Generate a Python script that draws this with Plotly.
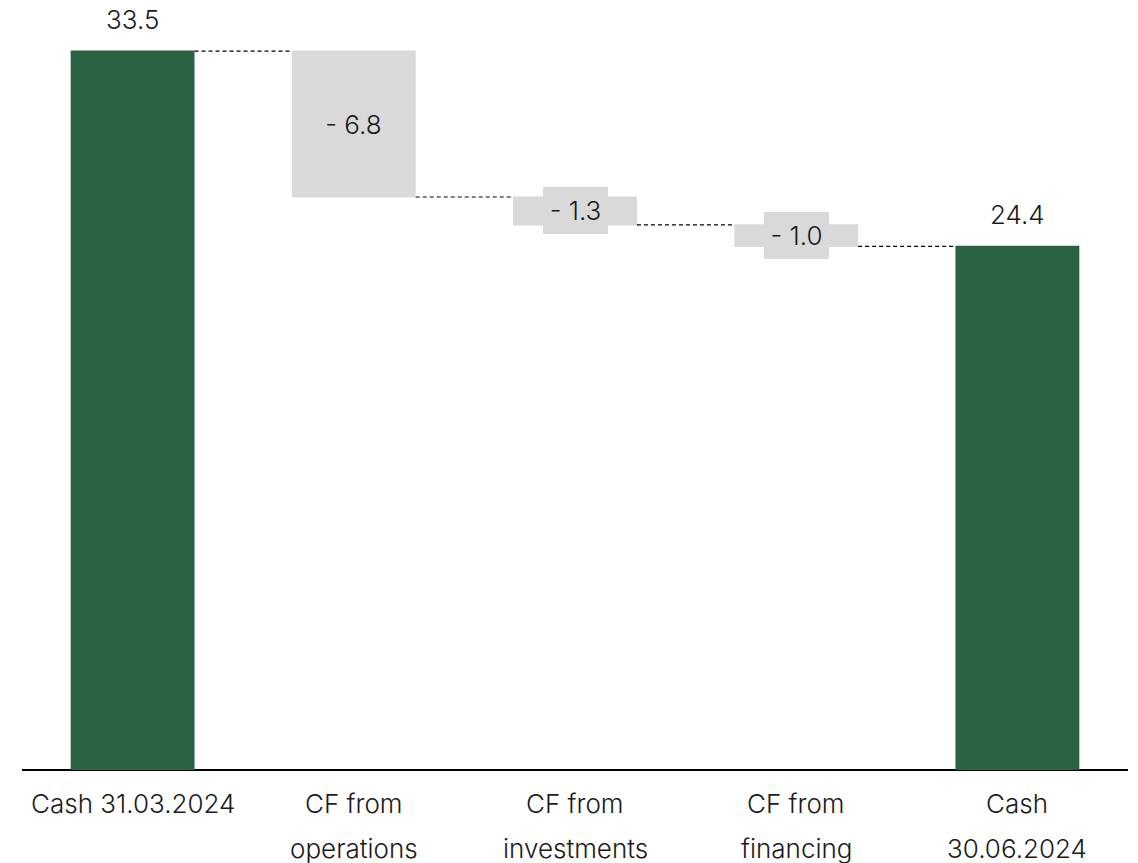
import plotly.graph_objects as go

# Cash bridge, EUR m
categories = ["Cash 31.03.2024", "CF from operations", "CF from investments",
              "CF from financing", "Cash 30.06.2024"]
label_line1 = ["Cash 31.03.2024", "CF from", "CF from", "CF from", "Cash"]
label_line2 = ["", "operations", "investments", "financing", "30.06.2024"]
measures = ["absolute", "relative", "relative", "relative", "total"]
values = [33.5, -6.8, -1.3, -1.0, 0]

GREEN = "#296342"
GREY = "#d9d9d9"
FONT = "Inter"
TEXT = "#1a1a1a"
SIZE = 26
WEIGHT = 300

fig = go.Figure(go.Waterfall(
    x=categories,
    y=values,
    measure=measures,
    width=0.56,
    totals=dict(marker=dict(color=GREEN)),
    decreasing=dict(marker=dict(color=GREY)),
    increasing=dict(marker=dict(color=GREEN)),
    connector=dict(line=dict(color="black", width=1.2, dash="4px,3px")),
    hoverinfo="skip",
))

font = dict(family=FONT, size=SIZE, color=TEXT, weight=WEIGHT)

# running levels for placing value labels
annotations = []
level = 0.0
for cat, m, v in zip(categories, measures, values):
    if m in ("absolute", "total"):
        if m == "absolute":
            level = v
        annotations.append(dict(x=cat, y=level, text=f"{level:.1f}", showarrow=False,
                                yanchor="middle", yshift=32, font=font))
    else:
        mid = level + v / 2
        sign = "- " if v < 0 else "+ "
        annotations.append(dict(x=cat, y=mid, text=f"{sign}{abs(v):.1f}", showarrow=False,
                                yanchor="middle", xanchor="center",
                                bgcolor=GREY, borderwidth=0, borderpad=0,
                                width=65, height=47, font=font))
        level += v

# two-line category labels under the axis
for cat, l1, l2 in zip(categories, label_line1, label_line2):
    annotations.append(dict(x=cat, xref="x", y=0, yref="paper", text=l1, showarrow=False,
                            yanchor="middle", yshift=-33, font=font))
    if l2:
        annotations.append(dict(x=cat, xref="x", y=0, yref="paper", text=l2, showarrow=False,
                                yanchor="middle", yshift=-78, font=font))

fig.update_layout(
    width=1138, height=863,
    margin=dict(l=22, r=10, t=0, b=93),
    paper_bgcolor="white", plot_bgcolor="white",
    showlegend=False,
    annotations=annotations,
    xaxis=dict(showticklabels=False, showgrid=False, zeroline=False,
               showline=False, ticks=""),
    yaxis=dict(range=[0, 35.88], showticklabels=False, showgrid=False,
               zeroline=True, zerolinecolor="black", zerolinewidth=1.5,
               showline=False, ticks=""),
)

fig.write_html("out.html")
